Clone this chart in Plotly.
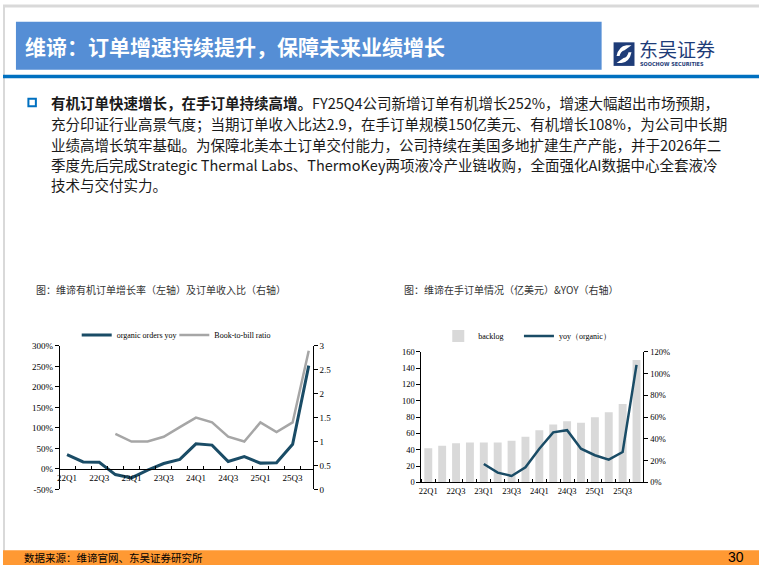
import plotly.graph_objects as go

W, H = 759, 570

# ---------------- data ----------------
quarters = ["22Q1", "22Q2", "22Q3", "22Q4", "23Q1", "23Q2", "23Q3", "23Q4",
            "24Q1", "24Q2", "24Q3", "24Q4", "25Q1", "25Q2", "25Q3", "25Q4"]
organic_orders_yoy = [35, 17, 16, -14, -22, -3, 13, 23, 61, 58, 18, 30, 14, 15, 60, 252]  # %
book_to_bill = [None, None, None, 1.16, 1.0, 1.0, 1.1, 1.3, 1.5, 1.4, 1.1, 1.0, 1.4, 1.2, 1.4, 2.9]
backlog = [42, 45, 48, 49, 49, 49, 51, 56, 64, 71, 75, 73, 80, 86, 96, 150]  # 亿美元
backlog_yoy_organic = [None, None, None, None, 17, 9, 6, 14, 31, 46, 48, 31, 25, 21, 28, 108]  # %
tick_labels = quarters[::2]
yoy_axis_vals = [-50, 0, 50, 100, 150, 200, 250, 300]
yoy_axis_text = ["-50%", "0%", "50%", "100%", "150%", "200%", "250%", "300%"]

title_text = "维谛：订单增速持续提升，保障未来业绩增长"
bullet_lines = [
    "<b>有机订单快速增长，在手订单持续高增。</b>FY25Q4公司新增订单有机增长252%，增速大幅超出市场预期，",
    "充分印证行业高景气度；当期订单收入比达2.9，在手订单规模150亿美元、有机增长108%，为公司中长期",
    "业绩高增长筑牢基础。为保障北美本土订单交付能力，公司持续在美国多地扩建生产产能，并于2026年二",
    "季度先后完成Strategic Thermal Labs、ThermoKey两项液冷产业链收购，全面强化AI数据中心全套液冷",
    "技术与交付实力。",
]
chart1_title = "图：维谛有机订单增长率（左轴）及订单收入比（右轴）"
chart2_title = "图：维谛在手订单情况（亿美元）&YOY（右轴）"
source_text = "数据来源：维谛官网、东吴证券研究所"
page_no = "30"

# ---------------- helpers ----------------
def px(x):
    return x / W

def py(y):
    return 1 - y / H

idx = list(range(len(quarters)))
tick_idx = idx[::2]

DARK = "#1A4C66"
GRAY = "#A6A6A6"
SERIF = "Liberation Serif, Times New Roman, serif"
CJK = "Noto Sans CJK SC, sans-serif"

fig = go.Figure()

fig.add_trace(go.Scatter(x=idx, y=organic_orders_yoy, name="organic orders yoy",
                         mode="lines", line=dict(color=DARK, width=3),
                         xaxis="x", yaxis="y", legend="legend"))
fig.add_trace(go.Scatter(x=idx, y=book_to_bill, name="Book-to-bill ratio",
                         mode="lines", line=dict(color=GRAY, width=2.5),
                         xaxis="x", yaxis="y2", legend="legend2"))
fig.add_trace(go.Bar(x=idx, y=backlog, name="backlog", marker=dict(color="#D9D9D9", line=dict(width=0)),
                     width=0.57, xaxis="x2", yaxis="y3", legend="legend3"))
fig.add_trace(go.Scatter(x=idx, y=backlog_yoy_organic, name="yoy（organic）",
                         mode="lines", line=dict(color=DARK, width=2.5),
                         xaxis="x2", yaxis="y4", legend="legend4"))

# chart 1 geometry
c1x0, c1x1, c1y0, c1y1 = 57, 311, 347, 493
d1y = [py(c1y1), py(c1y0)]
zero_pos = d1y[0] + (d1y[1] - d1y[0]) * (50 / 350)
# chart 2 geometry
c2x0, c2x1, c2y0, c2y1 = 420, 643, 353, 486

axfont1 = dict(family=SERIF, size=9, color="black")
axfont2 = dict(family=SERIF, size=8.5, color="black")

common_y = dict(showgrid=False, zeroline=False, showline=True, linecolor="black", linewidth=1,
                ticks="outside", ticklen=4, tickcolor="black", tickwidth=1)

def leg(xpix, ypix):
    return dict(orientation="h", x=px(xpix), y=py(ypix), xanchor="left", yanchor="middle",
                font=dict(family=SERIF, size=8, color="black"), bgcolor="rgba(0,0,0,0)",
                itemwidth=30)

fig.update_layout(
    width=W, height=H, margin=dict(l=0, r=0, t=0, b=0),
    paper_bgcolor="white", plot_bgcolor="white",
    showlegend=True,
    xaxis=dict(domain=[px(c1x0), px(c1x1)], anchor="free", position=zero_pos,
               range=[-0.45, 15.25], tickmode="array", tickvals=tick_idx, ticktext=tick_labels,
               ticks="", showgrid=False, zeroline=False, showline=True, linecolor="black", linewidth=1,
               tickfont=axfont1,
               minor=dict(ticks="inside", ticklen=3, tickcolor="black", tickmode="linear", tick0=0.5, dtick=1)),
    yaxis=dict(domain=d1y, anchor="x", range=[-50, 300], tickmode="array",
               tickvals=yoy_axis_vals, ticktext=yoy_axis_text,
               tickfont=axfont1, **common_y),
    yaxis2=dict(domain=d1y, anchor="x", overlaying="y", side="right", range=[0, 3], dtick=0.5,
                tickfont=axfont1, **common_y),
    xaxis2=dict(domain=[px(c2x0), px(c2x1)], anchor="y3",
                range=[-0.5, 15.5], tickmode="array", tickvals=tick_idx, ticktext=tick_labels,
                ticks="", showgrid=False, zeroline=False, showline=True, linecolor="black", linewidth=1,
                tickfont=axfont2,
                minor=dict(ticks="inside", ticklen=3, tickcolor="black", tickmode="linear", tick0=0.5, dtick=1)),
    yaxis3=dict(domain=[py(c2y1), py(c2y0)], anchor="x2", range=[0, 160], dtick=20,
                tickfont=axfont2, **common_y),
    yaxis4=dict(domain=[py(c2y1), py(c2y0)], anchor="x2", overlaying="y3", side="right",
                range=[0, 120], dtick=20, ticksuffix="%", tickfont=axfont2, **common_y),
    legend=leg(74, 336),
    legend2=leg(172, 336),
    legend3=leg(437, 337),
    legend4=leg(518, 337),
)

shapes = []
# page border (light gray)
shapes.append(dict(type="line", xref="paper", yref="paper", x0=0, x1=1, y0=py(1), y1=py(1),
                   line=dict(color="#D9D9D9", width=3)))
shapes.append(dict(type="line", xref="paper", yref="paper", x0=px(1), x1=px(1), y0=0, y1=1,
                   line=dict(color="#D9D9D9", width=2)))
# title box
shapes.append(dict(type="rect", xref="paper", yref="paper", x0=px(13), x1=px(601), y0=py(66), y1=py(17),
                   fillcolor="#558ED5", line=dict(width=0), layer="below"))
# blue rule
shapes.append(dict(type="rect", xref="paper", yref="paper", x0=px(0), x1=px(759), y0=py(74.5), y1=py(71),
                   fillcolor="#0070C0", line=dict(width=0)))
# logo icon
shapes.append(dict(type="rect", xref="paper", yref="paper", x0=px(613), x1=px(634), y0=py(62), y1=py(38),
                   fillcolor="#1E3C78", line=dict(width=0)))
shapes.append(dict(type="path", xref="paper", yref="paper",
                   path=f"M {px(616)} {py(52)} Q {px(618)} {py(42)} {px(626)} {py(41)} L {px(631)} {py(41)} "
                        f"L {px(624)} {py(46)} Q {px(620)} {py(47)} {px(619)} {py(52)} Z",
                   fillcolor="white", line=dict(width=0)))
shapes.append(dict(type="path", xref="paper", yref="paper",
                   path=f"M {px(631)} {py(48)} Q {px(629)} {py(58)} {px(621)} {py(59)} L {px(616)} {py(59)} "
                        f"L {px(623)} {py(54)} Q {px(627)} {py(53)} {px(628)} {py(48)} Z",
                   fillcolor="white", line=dict(width=0)))
# bullet square
shapes.append(dict(type="rect", xref="paper", yref="paper", x0=px(25.5), x1=px(33), y0=py(103), y1=py(95.5),
                   fillcolor="rgba(0,0,0,0)", line=dict(color="#0070C0", width=2)))
# footer
shapes.append(dict(type="rect", xref="paper", yref="paper", x0=0, x1=1, y0=0, y1=py(555),
                   fillcolor="#FF9933", line=dict(width=0)))
fig.update_layout(shapes=shapes)

ann = []
ann.append(dict(text=f"<b>{title_text}</b>", x=px(20), y=py(42), xref="paper", yref="paper",
                xanchor="left", yanchor="middle", showarrow=False,
                font=dict(family=CJK, size=21, color="white")))
ann.append(dict(text="东吴证券", x=px(637), y=py(44), xref="paper", yref="paper",
                xanchor="left", yanchor="middle", showarrow=False,
                font=dict(family=CJK, size=19, color="#1E3C78")))
ann.append(dict(text="<b>SOOCHOW SECURITIES</b>", x=px(638), y=py(60), xref="paper", yref="paper",
                xanchor="left", yanchor="middle", showarrow=False,
                font=dict(family="DejaVu Sans Condensed, DejaVu Sans, sans-serif", size=5.5, color="#1E3C78")))
line_y = [99.5, 121, 141.5, 162, 183]
for t, yy in zip(bullet_lines, line_y):
    ann.append(dict(text=t, x=px(46), y=py(yy), xref="paper", yref="paper",
                    xanchor="left", yanchor="middle", showarrow=False,
                    font=dict(family=CJK, size=14.5, color="#1a1a1a")))
ann.append(dict(text=chart1_title, x=px(31), y=py(290), xref="paper", yref="paper",
                xanchor="left", yanchor="middle", showarrow=False,
                font=dict(family=CJK, size=10, color="#333333")))
ann.append(dict(text=chart2_title, x=px(401), y=py(290), xref="paper", yref="paper",
                xanchor="left", yanchor="middle", showarrow=False,
                font=dict(family=CJK, size=10, color="#333333")))
ann.append(dict(text=source_text, x=px(19), y=py(562.5), xref="paper", yref="paper",
                xanchor="left", yanchor="middle", showarrow=False,
                font=dict(family=CJK, size=10.5, color="black")))
ann.append(dict(text=page_no, x=px(746), y=py(562), xref="paper", yref="paper",
                xanchor="right", yanchor="middle", showarrow=False,
                font=dict(family="Liberation Sans, sans-serif", size=14, color="black")))
fig.update_layout(annotations=ann)

fig.write_html("out.html", config={"displayModeBar": False},
               post_script="document.body.style.margin='0';document.body.style.overflow='hidden';")
